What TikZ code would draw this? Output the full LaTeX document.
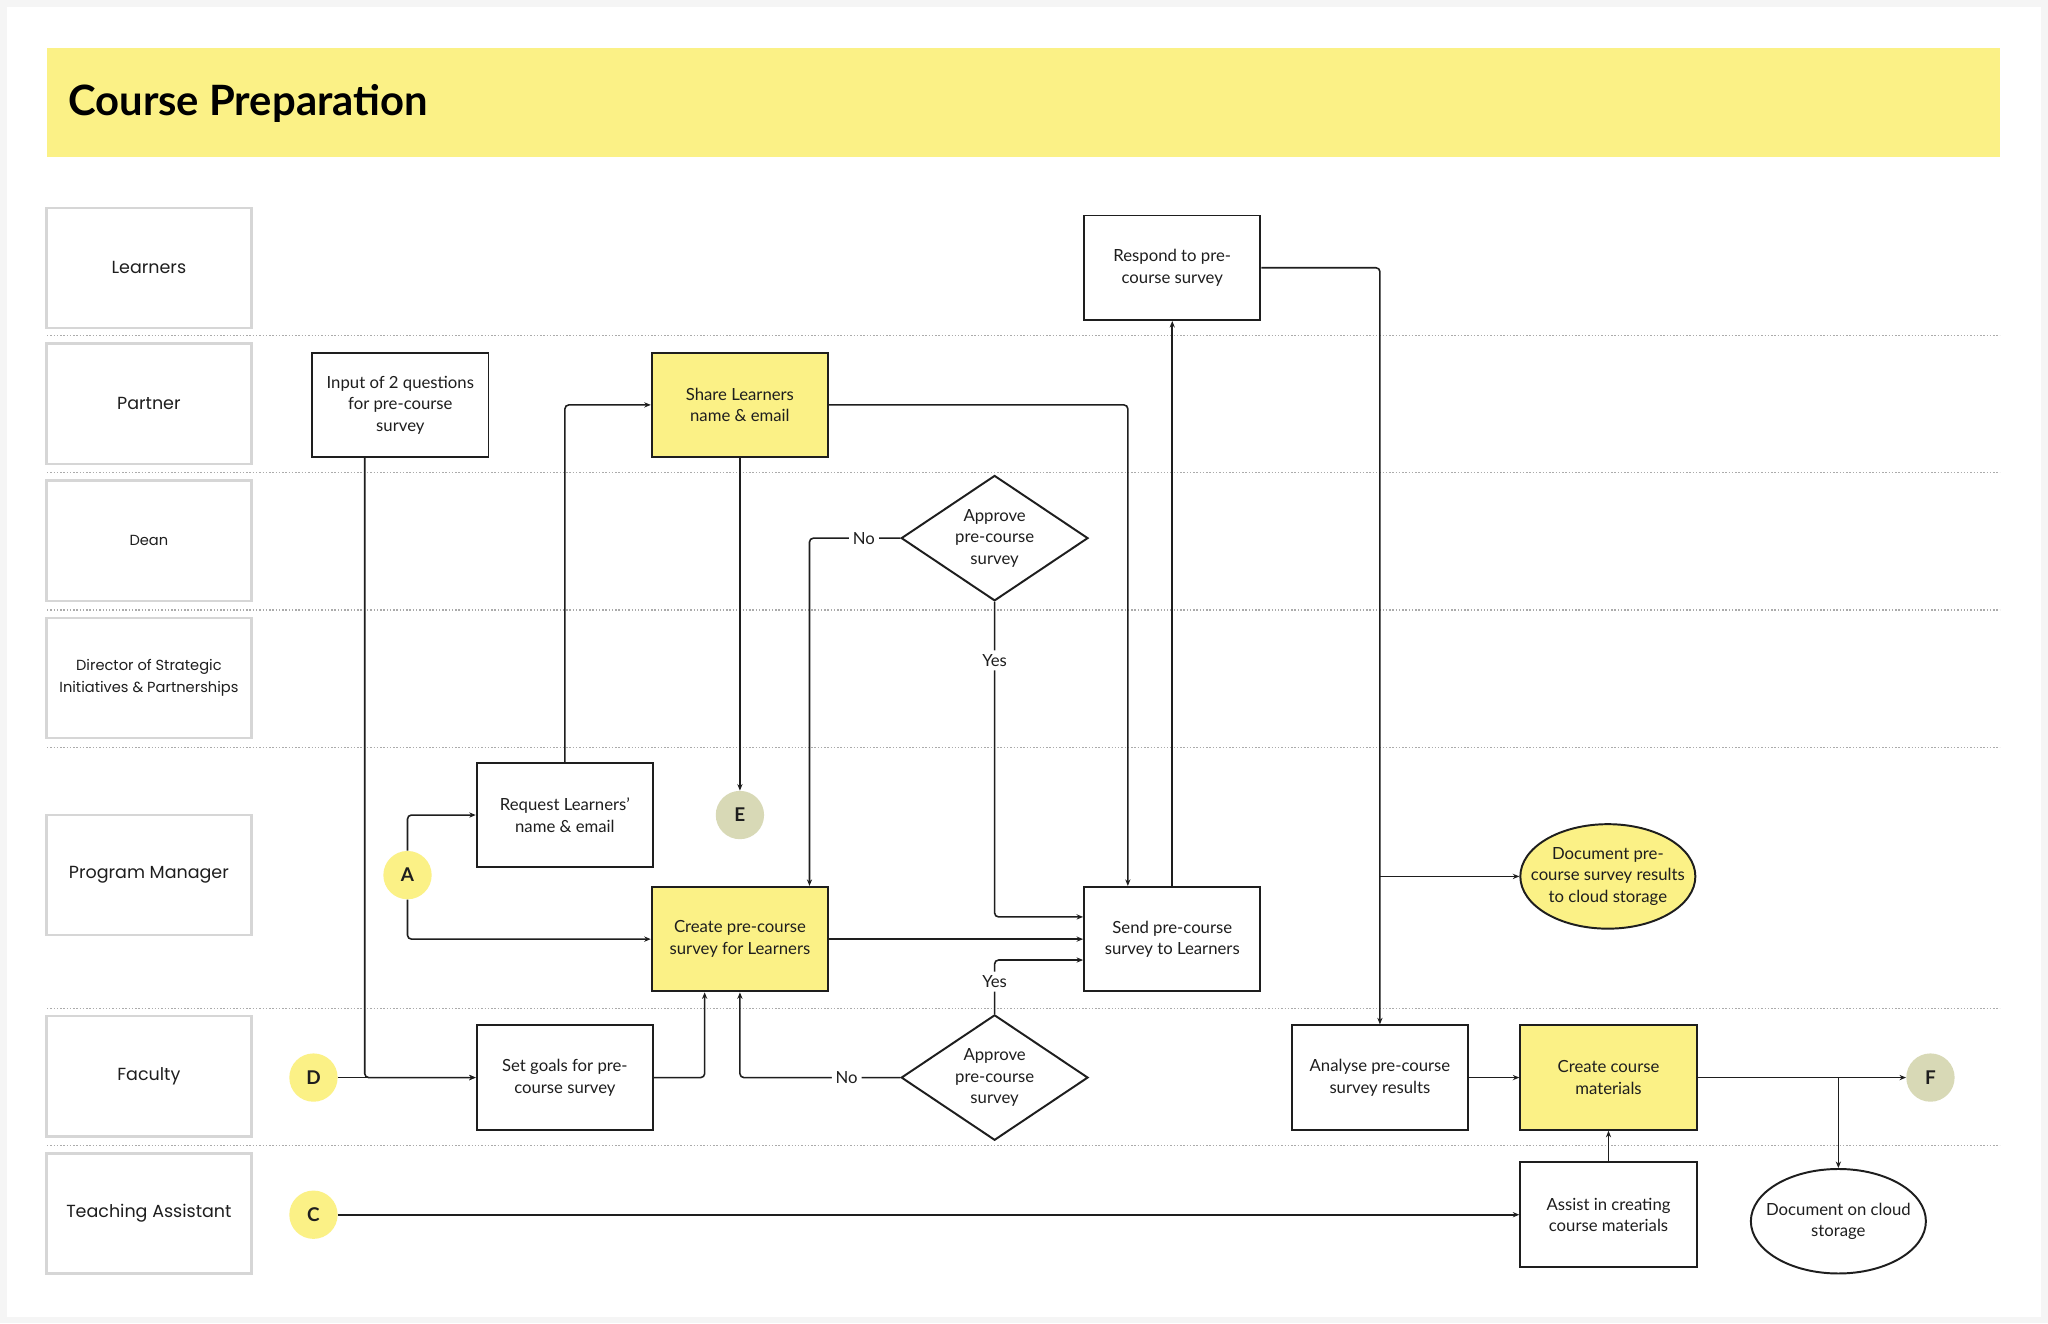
\documentclass[tikz,border=0pt]{standalone}
\usepackage{fontspec}
\setmainfont{Lato}
\newfontfamily\lanefont{Poppins}
\usetikzlibrary{shapes.geometric,arrows.meta}
\definecolor{ylw}{HTML}{FBF186}
\definecolor{olv}{HTML}{D8D9B6}
\definecolor{lanegray}{HTML}{D6D6D6}
\definecolor{dotgray}{HTML}{ABABAB}
\definecolor{ink}{HTML}{1E1E1E}
\begin{document}
\begin{tikzpicture}[x=1pt,y=-1pt,
  txt/.style={font=\fontsize{12.8}{16.5}\selectfont,align=center,text=ink},
  box/.style={txt,draw=ink,line width=1.5pt,minimum width=135pt,minimum height=80pt,inner sep=2pt},
  ybox/.style={box,fill=ylw},
  dia/.style={txt,diamond,draw=ink,line width=1.5pt,minimum width=143pt,minimum height=96pt,aspect=1.5,inner sep=0pt},
  oval/.style={txt,ellipse,draw=ink,line width=1.5pt,minimum width=134pt,minimum height=80pt,inner xsep=-14pt,inner ysep=0pt},
  circ/.style={circle,minimum size=37pt,inner sep=0pt,font=\bfseries\fontsize{14.5}{15}\selectfont,text=ink},
  lane/.style={draw=lanegray,line width=1.8pt,minimum width=157pt,minimum height=92pt,inner sep=0pt,align=center,font=\lanefont\fontsize{13.4}{16}\selectfont,text=ink},
  slane/.style={lane,font=\lanefont\fontsize{11.2}{16.5}\selectfont},
  conn/.style={draw=ink,line width=1.2pt,rounded corners=3pt,-{Stealth[length=5pt,width=4pt]}},
  lbl/.style={fill=white,inner sep=3pt,font=\fontsize{12.8}{14}\selectfont,text=ink},
  sep/.style={draw=dotgray,line width=0.9pt,dash pattern=on 1.1pt off 1.4pt}
]
\useasboundingbox (0,0) rectangle (1568,1013);
\fill[black!4] (0,0) rectangle (1568,1013);
\fill[white] (5,5) rectangle (1563,1008);

% title
\fill[ylw] (36,37) rectangle (1531,120);
\node[anchor=west,font=\bfseries\fontsize{32}{34}\selectfont,text=black,inner sep=0pt] (title) at (52,79) {Course Preparation};

% lane separators
\foreach \yy in {257,362,467,572,772,877}
  \draw[sep] (36,\yy) -- (1531,\yy);

% lane labels
\node[lane]  (lLearn) at (114,205) {Learners};
\node[lane]  (lPart)  at (114,309) {Partner};
\node[slane] (lDean)  at (114,414) {Dean};
\node[slane] (lDir)   at (114,519) {Director of Strategic\\Initiatives \& Partnerships};
\node[lane]  (lPM)    at (114,670) {Program Manager};
\node[lane]  (lFac)   at (114,824) {Faculty};
\node[lane]  (lTA)    at (114,929) {Teaching Assistant};

% nodes
\node[box]  (respond) at (897.5,205) {Respond to pre-\\course survey};
\node[box]  (input)   at (306.5,310) {Input of 2 questions\\for pre-course\\survey};
\node[ybox] (share)   at (566.5,310) {Share Learners\\name \& email};
\node[dia]  (dean)    at (761.5,412) {Approve\\pre-course\\survey};
\node[circ,fill=olv] (E) at (566.5,624) {E};
\node[box]  (req)     at (432.5,624) {Request Learners'\\name \& email};
\node[circ,fill=ylw] (A) at (312,670) {A};
\node[ybox] (cps)     at (566.5,719) {Create pre-course\\survey for Learners};
\node[box]  (send)    at (897.5,719) {Send pre-course\\survey to Learners};
\node[oval,fill=ylw] (doc1) at (1231,671) {Document pre-\\course survey results\\to cloud storage};
\node[circ,fill=ylw] (D) at (240,825) {D};
\node[box]  (goals)   at (432.5,825) {Set goals for pre-\\course survey};
\node[dia]  (fdia)    at (761.5,825) {Approve\\pre-course\\survey};
\node[box]  (analyse) at (1056.5,825) {Analyse pre-course\\survey results};
\node[ybox] (ccm)     at (1231.5,825) {Create course\\materials};
\node[circ,fill=olv] (F) at (1478,825) {F};
\node[circ,fill=ylw] (C) at (240,930) {C};
\node[box]  (assist)  at (1231.5,930) {Assist in creating\\course materials};
\node[oval] (doc2)    at (1407.5,935) {Document on cloud\\storage};

% connectors
\coordinate (br1) at (analyse.north |- doc1.west);
\coordinate (br2) at (doc2.north |- ccm.east);

\draw[conn] (respond.east) -| (analyse.north);
\draw[conn] (br1) -- (doc1.west);
\draw[conn] ([xshift=41pt]input.south west) |- (goals.west);
\draw[conn] (D.east) -- (goals.west);
\draw[conn] (req.north) |- (share.west);
\draw[conn] (A.north) |- (req.west);
\draw[conn] (A.south) |- (cps.west);
\draw[conn] (share.south) -- (E.north);
\draw[conn] (share.east) -| ([xshift=-34pt]send.north);
\draw[conn] (dean.west) -| node[lbl,pos=0.2]{No} ([xshift=-15pt]cps.north east);
\draw[conn] (dean.south) |- node[lbl,pos=0.093]{Yes} ([yshift=17pt]send.west);
\draw[conn] (cps.east) -- (send.west);
\draw[conn] (send.north) -- (respond.south);
\draw[conn] (fdia.north) |- node[lbl,pos=0.3]{Yes} ([yshift=-16pt]send.west);
\draw[conn] (fdia.west) -| node[lbl,pos=0.167]{No} (cps.south);
\draw[conn] (goals.east) -| ([xshift=-27pt]cps.south);
\draw[conn] (analyse.east) -- (ccm.west);
\draw[conn] (ccm.east) -- (F.west);
\draw[conn] (br2) -- (doc2.north);
\draw[conn] (assist.north) -- (ccm.south);
\draw[conn] (C.east) -- (assist.west);
\end{tikzpicture}
\end{document}
